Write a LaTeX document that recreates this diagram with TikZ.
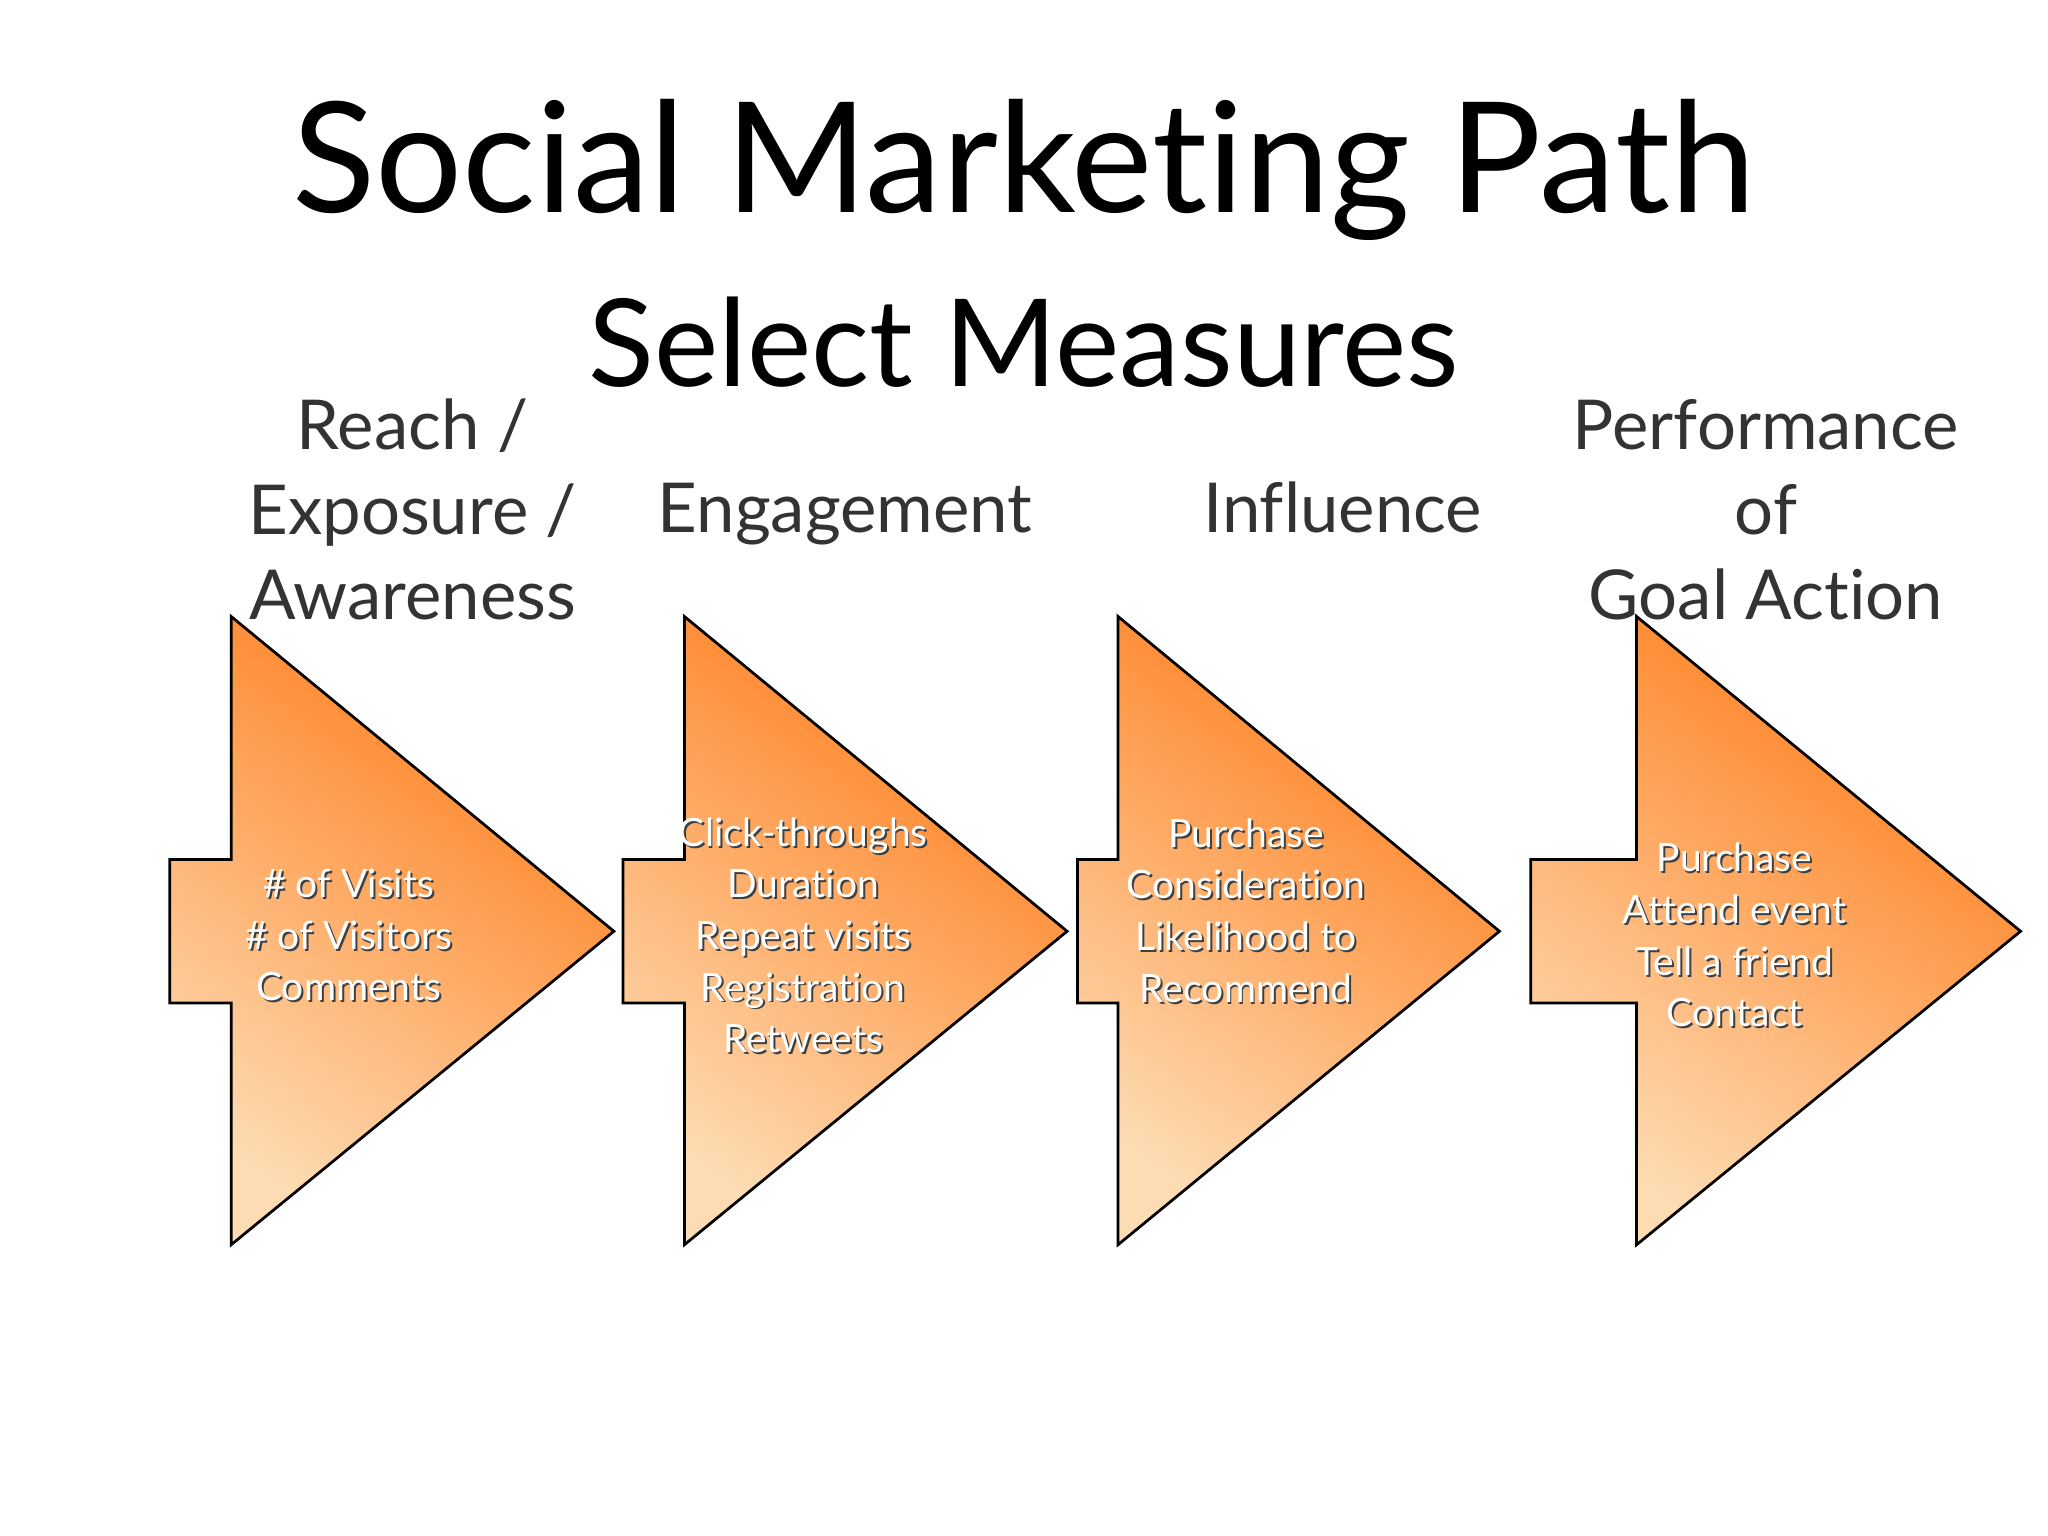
\documentclass[tikz,border=0pt]{standalone}
\usepackage{fontspec}
\setmainfont[Ligatures={NoCommon}]{Lato}
\begin{document}
\begin{tikzpicture}[x=0.02cm,y=-0.02cm,
  arr/.style={draw=black,line width=1.2pt,top color=orange!85!red!90!white,bottom color={rgb,255:red,253;green,220;blue,180},shading angle=-35},
  head/.style={text=black!80,font=\fontsize{30}{37}\selectfont,align=center},
  inner/.style={text=white,font=\fontsize{17}{22.5}\selectfont,align=center},
  shad/.style={text=black!75,font=\fontsize{17}{22.5}\selectfont,align=center}]
\useasboundingbox (0,0) rectangle (1568,1176);
\node[font=\fontsize{67}{80}\selectfont] (title) at (784,130) {Social Marketing Path};
\node[font=\fontsize{53}{64}\selectfont] (sub) at (784,262) {Select Measures};
\node[head] (h1) at (316,390) {Reach /\\Exposure /\\Awareness};
\node[head,anchor=base] (h2) at (647,408) {Engagement};
\node[head,anchor=base] (h3) at (1028,408) {Influence};
\node[head] (h4) at (1352,390) {Performance\\of\\Goal Action};
\foreach \a/\b/\c/\n in {130/177/470/1,477/524/817/2,825/856/1148/3,1172/1253/1547/4}{
  \path[arr] (\a,658) -- (\b,658) -- (\b,472) -- (\c,713) -- (\b,953) -- (\b,768) -- (\a,768) -- cycle;
}
\foreach \x/\y/\t/\n in {267/716/{\# of Visits\\\# of Visitors\\Comments}/t1,
  615/716/{Click-throughs\\Duration\\Repeat visits\\Registration\\Retweets}/t2,
  954/697/{Purchase\\Consideration\\Likelihood to\\Recommend}/t3,
  1328/716/{Purchase\\Attend event\\Tell a friend\\Contact}/t4}{
  \node[shad] at ([shift={(1.5,1.5)}]\x,\y) {\t};
  \node[inner] (\n) at (\x,\y) {\t};
}
\end{tikzpicture}
\end{document}
